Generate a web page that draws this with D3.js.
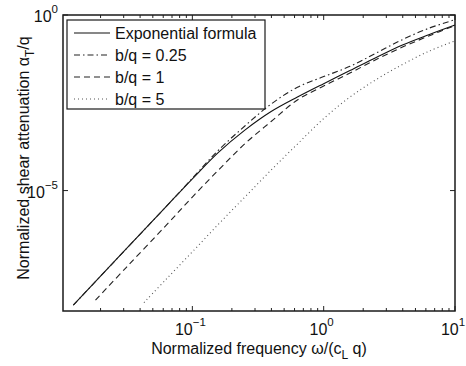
<!DOCTYPE html>
<html>
<head>
<meta charset="utf-8">
<script src="https://cdn.jsdelivr.net/npm/d3@7"></script>
<style>
  body { margin: 0; background: #fff; }
  svg text { font-family: "Liberation Sans", Arial, Helvetica, sans-serif; fill: #111; }
</style>
</head>
<body>
<svg id="chart" width="466" height="366"></svg>
<script>
// frequency w/(cL q) and normalized shear attenuation aT/q
var freqFull=[0.0124,0.0316,0.0631,0.1,0.158,0.251,0.398,0.631,1,1.585,2.512,3.981,6.31,10];
var expFormula=[5.47e-9,2.25e-7,3.48e-6,2.15e-5,1.22e-4,5.26e-4,1.78e-3,4.61e-3,0.0111,0.0261,0.0619,0.140,0.275,0.519];
var bq025=[5.47e-9,2.25e-7,3.48e-6,2.24e-5,1.41e-4,6.89e-4,2.91e-3,8.77e-3,0.0176,0.0345,0.0826,0.199,0.418,0.735];

var freqB1=[0.0183,0.0316,0.0631,0.1,0.158,0.251,0.398,0.631,1,1.585,2.512,3.981,6.31,10];
var bq1=[7.59e-9,6.65e-8,1.02e-6,6.53e-6,3.84e-5,2.15e-4,9.25e-4,3.81e-3,9.48e-3,0.0223,0.0540,0.122,0.252,0.502];

var freqB5=[0.0428,0.0631,0.1,0.158,0.251,0.398,0.631,1,1.585,2.512,3.981,6.31,10];
var bq5=[6.44e-9,2.97e-8,1.80e-7,1.10e-6,6.53e-6,3.84e-5,2.11e-4,1.12e-3,4.61e-3,0.0145,0.0389,0.0925,0.183];

var legendLabels=["Exponential formula","b/q = 0.25","b/q = 1","b/q = 5"];
var xTickVals=[0.1,1,10], xTickExp=["\u22121","0","1"];
var yTickVals=[1e-5,1], yTickExp=["\u22125","0"];

var margin={top:15,right:11,bottom:55,left:63};
var W=466,H=366;
var svg=d3.select("#chart");

var x=d3.scaleLog()
    .domain([Math.pow(10,-1.985),10])
    .range([margin.left,W-margin.right]);
var y=d3.scaleLog()
    .domain([Math.pow(10,-8.43),1])
    .range([H-margin.bottom,margin.top]);

var series=[
    {f:freqFull,v:expFormula,dash:null,color:"#111"},
    {f:freqFull,v:bq025,dash:"6,3,1.5,3",color:"#222"},
    {f:freqB1,v:bq1,dash:"6,4",color:"#222"},
    {f:freqB5,v:bq5,dash:"1,3",color:"#555"}
];

var line=d3.line()
    .x(function(d){return x(d[0]);})
    .y(function(d){return y(d[1]);})
    .curve(d3.curveCatmullRom.alpha(0.5));

svg.append("rect")
    .attr("x",margin.left).attr("y",margin.top)
    .attr("width",x.range()[1]-margin.left)
    .attr("height",y.range()[0]-margin.top)
    .attr("fill","#fff");

svg.selectAll("path.curve")
    .data(series)
    .enter().append("path")
    .attr("class","curve")
    .attr("d",function(s){return line(d3.zip(s.f,s.v));})
    .attr("fill","none")
    .attr("stroke",function(s){return s.color;})
    .attr("stroke-width",1.1)
    .attr("stroke-dasharray",function(s){return s.dash;});

// ticks, inside the box on all four sides
var x0=x.range()[0],x1=x.range()[1],y0=y.range()[0],y1=y.range()[1];
var minorX=[];
[0.01,0.1,1].forEach(function(d){ for(var k=2;k<=9;k++){ var v=d*k; if(v>=x.domain()[0]) minorX.push(v);} });
var tk=svg.append("g").attr("stroke","#222").attr("stroke-width",1);
minorX.forEach(function(v){
    tk.append("line").attr("x1",x(v)).attr("x2",x(v)).attr("y1",y0).attr("y2",y0-3);
    tk.append("line").attr("x1",x(v)).attr("x2",x(v)).attr("y1",y1).attr("y2",y1+3);
});
xTickVals.forEach(function(v){
    tk.append("line").attr("x1",x(v)).attr("x2",x(v)).attr("y1",y0).attr("y2",y0-5);
    tk.append("line").attr("x1",x(v)).attr("x2",x(v)).attr("y1",y1).attr("y2",y1+5);
});
yTickVals.forEach(function(v){
    tk.append("line").attr("x1",x0).attr("x2",x0+5).attr("y1",y(v)).attr("y2",y(v));
    tk.append("line").attr("x1",x1).attr("x2",x1-5).attr("y1",y(v)).attr("y2",y(v));
});

svg.append("rect")
    .attr("x",x0).attr("y",y1)
    .attr("width",x1-x0).attr("height",y0-y1)
    .attr("fill","none").attr("stroke","#1a1a1a").attr("stroke-width",1.5);

// tick labels 10^n
function powLabel(g,px,py,exp,anchor){
    var t=g.append("text").attr("x",px).attr("y",py).attr("font-size",16).attr("text-anchor",anchor);
    t.append("tspan").text("10");
    t.append("tspan").attr("font-size",11.5).attr("dy",-9).text(exp);
}
xTickVals.forEach(function(v,i){ powLabel(svg,x(v)-2,y0+24,xTickExp[i],"middle"); });
yTickVals.forEach(function(v,i){ powLabel(svg,x0-5,y(v)+7,yTickExp[i],"end"); });

// axis titles
var xl=svg.append("text").attr("x",(x0+x1)/2).attr("y",354).attr("font-size",16).attr("text-anchor","middle");
xl.append("tspan").text("Normalized frequency \u03c9/(c");
xl.append("tspan").attr("font-size",12).attr("dy",5).text("L");
xl.append("tspan").attr("dy",-5).text(" q)");

var yl=svg.append("text")
    .attr("transform","translate(29,158) rotate(-90)")
    .attr("font-size",16).attr("text-anchor","middle");
yl.append("tspan").text("Normalized shear attenuation \u03b1");
yl.append("tspan").attr("font-size",12).attr("dy",5).text("T");
yl.append("tspan").attr("dy",-5).text("/q");

// legend
var lg=svg.append("g");
lg.append("rect").attr("x",67).attr("y",20).attr("width",198).attr("height",89)
    .attr("fill","#fff").attr("stroke","#1a1a1a").attr("stroke-width",1.2);
legendLabels.forEach(function(lab,i){
    var cy=33+i*22;
    lg.append("line").attr("x1",74).attr("x2",110).attr("y1",cy).attr("y2",cy)
        .attr("stroke",series[i].color).attr("stroke-width",1.1)
        .attr("stroke-dasharray",series[i].dash);
    lg.append("text").attr("x",115).attr("y",cy+6).attr("font-size",16).text(lab);
});
</script>
</body>
</html>
